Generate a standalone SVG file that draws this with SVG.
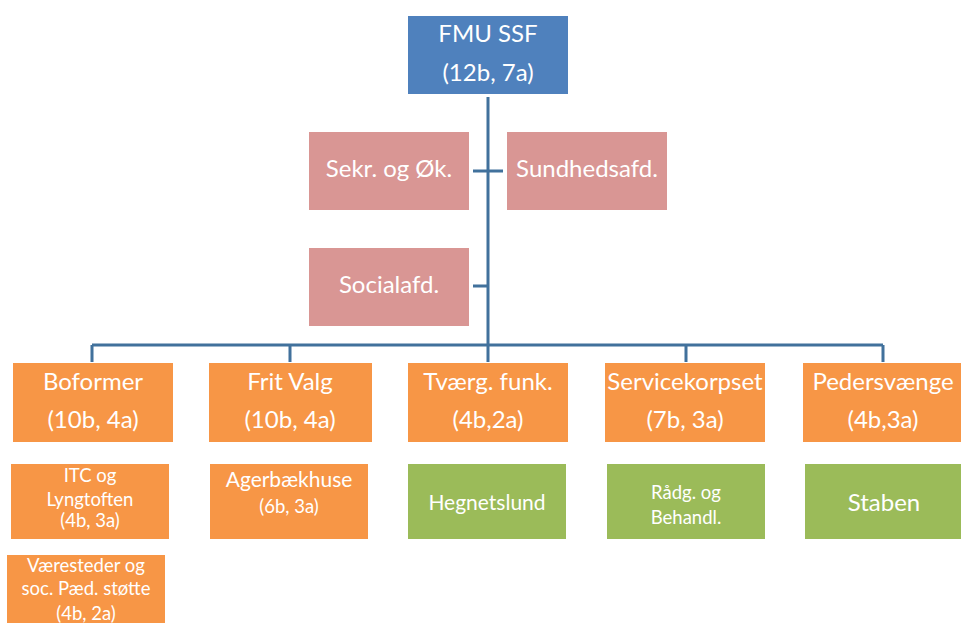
<svg xmlns="http://www.w3.org/2000/svg" width="961" height="623" viewBox="0 0 961 623">
<style>
.t{font-family:Lato,"Open Sans","Liberation Sans",sans-serif;fill:#fff;text-anchor:middle}
.b{font-size:24px}
.s{font-size:18.5px}
.m{font-size:21px}
.blue{fill:#4F81BD}
.pink{fill:#D99694}
.or{fill:#F79646}
.gr{fill:#9BBB59}
.c{stroke:#41719C;stroke-width:3;fill:none}
</style>
<rect width="961" height="623" fill="#fff"/>
<g id="connectors">
<path class="c" d="M488 97V345M92 345H883M92 345V362M290 345V362M488 345V362M686 345V362M883 345V362M473 171H503M473 286H488"/>
</g>
<g id="fmu"><rect class="blue" x="408" y="16" width="160" height="78"/><text class="t b" x="488" y="42">FMU SSF</text><text class="t b" x="488" y="81">(12b, 7a)</text></g>
<g id="sekr"><rect class="pink" x="309" y="132" width="160" height="78"/><text class="t b" x="389" y="177">Sekr. og Øk.</text></g>
<g id="sundhed"><rect class="pink" x="507" y="132" width="160" height="78"/><text class="t b" x="587" y="177">Sundhedsafd.</text></g>
<g id="social"><rect class="pink" x="309" y="248" width="160" height="78"/><text class="t b" x="389" y="293">Socialafd.</text></g>
<g id="boformer"><rect class="or" x="13" y="363" width="160" height="79"/><text class="t b" x="93" y="390">Boformer</text><text class="t b" x="93" y="428">(10b, 4a)</text></g>
<g id="fritvalg"><rect class="or" x="209" y="363" width="163" height="79"/><text class="t b" x="290" y="390">Frit Valg</text><text class="t b" x="290" y="428">(10b, 4a)</text></g>
<g id="tvaerg"><rect class="or" x="408" y="363" width="160" height="79"/><text class="t b" x="488" y="390">Tværg. funk.</text><text class="t b" x="488" y="428">(4b,2a)</text></g>
<g id="service"><rect class="or" x="605" y="363" width="160" height="79"/><text class="t b" x="685" y="390">Servicekorpset</text><text class="t b" x="685" y="428">(7b, 3a)</text></g>
<g id="pedersvaenge"><rect class="or" x="803" y="363" width="160" height="79"/><text class="t b" x="883" y="390">Pedersvænge</text><text class="t b" x="883" y="428">(4b,3a)</text></g>
<g id="itc"><rect class="or" x="11" y="464" width="158" height="75"/><text class="t s" x="90" y="482">ITC og</text><text class="t s" x="90" y="506">Lyngtoften</text><text class="t s" x="90" y="527">(4b, 3a)</text></g>
<g id="agerbaek"><rect class="or" x="210" y="464" width="158" height="75"/><text class="t m" x="289" y="487">Agerbækhuse</text><text class="t s" x="289" y="513">(6b, 3a)</text></g>
<g id="vaeresteder"><rect class="or" x="7" y="555" width="158" height="70"/><text class="t s" x="86" y="572">Væresteder og</text><text class="t s" x="86" y="595">soc. Pæd. støtte</text><text class="t s" x="86" y="620">(4b, 2a)</text></g>
<g id="hegnetslund"><rect class="gr" x="408" y="464" width="158" height="75"/><text class="t m" x="487" y="510">Hegnetslund</text></g>
<g id="raadg"><rect class="gr" x="607" y="464" width="158" height="75"/><text class="t s" x="686" y="499">Rådg. og</text><text class="t s" x="686" y="524">Behandl.</text></g>
<g id="staben"><rect class="gr" x="805" y="464" width="158" height="75"/><text class="t b" x="884" y="511">Staben</text></g>
</svg>
